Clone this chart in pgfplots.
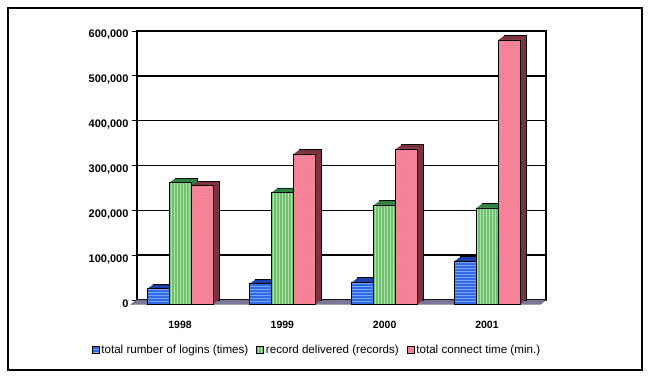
\documentclass[border=0pt]{standalone}
\usepackage{pgfplots}
\pgfplotsset{compat=1.18}
\usetikzlibrary{patterns}
\usepackage{fontspec}
\setmainfont{Liberation Sans}
\definecolor{bluef}{RGB}{48,106,230}
\definecolor{blued}{RGB}{30,62,170}
\definecolor{bluel}{RGB}{120,165,245}
\definecolor{greenf}{RGB}{112,192,112}
\definecolor{greend}{RGB}{48,128,62}
\definecolor{greenl}{RGB}{175,225,170}
\definecolor{pinkf}{RGB}{245,128,150}
\definecolor{pinkd}{RGB}{122,52,64}
\definecolor{pinkl}{RGB}{250,175,200}
\definecolor{floorc}{RGB}{122,120,152}

\pgfplotstableread{
x logins records connect
0 35500 272000 265000
1 46500 250000 336000
2 50000 222000 347000
3 96500 215500 590000
}\data

\pgfplotsset{
  bk/.style={ybar, bar width=22pt, forget plot, line width=0.5pt},
  fr/.style={ybar, bar width=22pt, draw=black, line width=0.5pt, xshift=-6pt, yshift=-4.5pt},
}

\begin{document}
\begin{tikzpicture}[x=1pt,y=1pt]
\useasboundingbox (0,0) rectangle (650,377);
\draw[line width=2.4pt] (8,369) rectangle (642,7);
\begin{axis}[
  at={(137pt,77pt)}, anchor=south west,
  scale only axis, width=409pt, height=269pt,
  xmin=-0.479, xmax=3.518, ymin=0, ymax=600000,
  clip=false,
  axis line style={line width=1.6pt},
  ymajorgrids, major grid style={line width=1.5pt, black},
  ytick={0,100000,200000,300000,400000,500000,600000},
  yticklabels={0,{100,000},{200,000},{300,000},{400,000},{500,000},{600,000}},
  scaled y ticks=false,
  yticklabel style={font=\bfseries\fontsize{11}{12}\selectfont, yshift=-4pt},
  ytick pos=left, tick align=outside, major tick length=5pt,
  ytick style={line width=0.7pt, black},
  xtick={0,1,2,3}, xticklabels={1998,1999,2000,2001},
  xtick style={draw=none},
  xticklabel style={font=\bfseries\fontsize{10.5}{12}\selectfont, xshift=-6pt, yshift=-13pt},
  legend style={at={(0.44,-0.186)}, anchor=center, draw=none, fill=none,
    font=\fontsize{11.6}{13}\selectfont, legend columns=3,
    /tikz/every even column/.append style={column sep=6pt}},
  legend image code/.code={\draw[#1, xshift=6pt, yshift=4.5pt, line width=0.6pt] (0pt,-3.5pt) rectangle (7pt,3.5pt);},
]
% floor
\addplot[fill=floorc, draw=black!70, line width=0.4pt, forget plot]
  coordinates {(-0.479,0) (3.518,0) (3.459,-10000) (-0.538,-10000)} -- cycle;
% logins
\addplot[bk, bar shift=-22pt, fill=blued, draw=black] table[x=x, y=logins] {\data};
\pgfplotsinvokeforeach{1,...,5}{
  \addplot[bk, bar shift=-22pt, fill=blued, draw=none, xshift=-#1pt, yshift={-0.75*#1pt}] table[x=x, y=logins] {\data};
}
\addplot[fr, bar shift=-22pt, fill=bluef, postaction={pattern=horizontal lines, pattern color=bluel}]
  table[x=x, y=logins] {\data};
% records
\addplot[bk, bar shift=0pt, fill=greend, draw=black] table[x=x, y=records] {\data};
\pgfplotsinvokeforeach{1,...,5}{
  \addplot[bk, bar shift=0pt, fill=greend, draw=none, xshift=-#1pt, yshift={-0.75*#1pt}] table[x=x, y=records] {\data};
}
\addplot[fr, bar shift=0pt, fill=greenf, postaction={pattern=vertical lines, pattern color=greenl}]
  table[x=x, y=records] {\data};
% connect
\addplot[bk, bar shift=22pt, fill=pinkd, draw=black] table[x=x, y=connect] {\data};
\pgfplotsinvokeforeach{1,...,5}{
  \addplot[bk, bar shift=22pt, fill=pinkd, draw=none, xshift=-#1pt, yshift={-0.75*#1pt}] table[x=x, y=connect] {\data};
}
\addplot[fr, bar shift=22pt, fill=pinkf, postaction={pattern=dots, pattern color=pinkl}]
  table[x=x, y=connect] {\data};
\legend{total rumber of logins (times), record delivered (records), total connect time (min.)}
\end{axis}
\end{tikzpicture}
\end{document}
